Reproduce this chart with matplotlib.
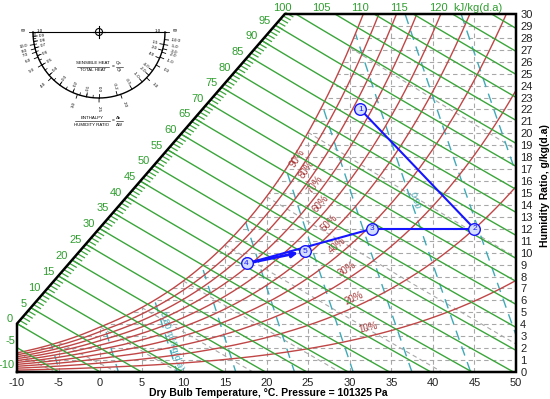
import numpy as np
import matplotlib
matplotlib.use('Agg')
import matplotlib.pyplot as plt
from matplotlib.patches import Polygon, Circle

plt.rcParams['font.family'] = ['Liberation Sans', 'DejaVu Sans']

P = 101325.0

# ---------------- data ----------------
temp_ticks = list(range(-10, 51, 5))
w_ticks = list(range(0, 31))
grid_temps = list(range(-5, 50, 5))
grid_ws = list(range(1, 30))
rh_levels = [0.1, 0.2, 0.3, 0.4, 0.5, 0.6, 0.7, 0.8, 0.9, 1.0]
rh_labels = ['10%', '20%', '30%', '40%', '50%', '60%', '70%', '80%', '90%', '']
rh_label_T = [32.4, 31.0, 30.2, 29.2, 28.2, 27.3, 26.6, 25.6, 24.6, 23.8]
enthalpy_levels = list(range(-5, 130, 5))
enthalpy_diag_labels = list(range(0, 100, 5))
enthalpy_left_labels = [-5, -10]
enthalpy_top_labels = ['100', '105', '110', '115', '120', 'kJ/kg(d.a)']
enthalpy_top_values = [100, 105, 110, 115, 120, 125]
volume_levels = [0.76, 0.78, 0.80, 0.82, 0.84, 0.86, 0.88, 0.90, 0.92, 0.94]
volume_label_values = [0.80, 0.90]
volume_label_texts = ['0.80 m³/kg(d.a)', '0.90']
volume_label_W = [2.6, 14.4]
wetbulb_levels = [-10, -5, 0, 5, 10, 15, 20, 25, 30]
state_names = ['1', '2', '3', '4', '5']
state_T = [31.3, 45.0, 32.7, 17.6, 24.6]
state_W = [22.0, 12.0, 12.0, 9.1, 10.1]
process_segments = [(0, 1), (1, 2), (2, 3)]
arrow_segment = (3, 4)
shr_labels = [0.9, 0.8, 0.7, 0.6, 0.5, 0.4, 0.3, 0.2, 0.1, 0.0, -0.2, -0.5, -1.0, -2.0, -4.0, 4.0, 2.0, 1.5]
dhdw_labels = [10.0, 8.0, 7.0, 6.0, 5.0, 4.0, 3.0, 2.5, 2.0, 1.0, 0.0, -1.0, -2.0, -3.0, -5.0, -10.0]

GREEN = '#3aa53a'
GREEN_T = '#2f9e2f'
RED = '#c04646'
RED_T = '#a83a3a'
TEAL = '#3eaab8'
GRAY = '#a8a8a8'
BLUE = '#1515ff'


# ---------------- psychrometrics ----------------
def pws(T):
    T = np.asarray(T, dtype=float)
    Tk = T + 273.15
    ice = np.exp(-5.6745359e3 / Tk + 6.3925247 - 9.677843e-3 * Tk + 6.2215701e-7 * Tk**2
                 + 2.0747825e-9 * Tk**3 - 9.484024e-13 * Tk**4 + 4.1635019 * np.log(Tk))
    wat = np.exp(-5.8002206e3 / Tk + 1.3914993 - 4.8640239e-2 * Tk + 4.1764768e-5 * Tk**2
                 - 1.4452093e-8 * Tk**3 + 6.5459673 * np.log(Tk))
    return np.where(T < 0, ice, wat)


def w_rh(T, rh):
    pw = rh * pws(T)
    return 621.945 * pw / (P - pw)


def w_h(T, h):
    return (h - 1.006 * T) / (2.501 + 0.00186 * T)


def w_v(T, v):
    return (v * P / (287.042 * (T + 273.15)) - 1.0) / 1.607858 * 1000.0


def w_wb(T, twb):
    ws = w_rh(twb, 1.0) / 1000.0
    if twb >= 0:
        w = ((2501 - 2.326 * twb) * ws - 1.006 * (T - twb)) / (2501 + 1.86 * T - 4.186 * twb)
    else:
        w = ((2830 - 0.24 * twb) * ws - 1.006 * (T - twb)) / (2830 + 1.86 * T - 2.1 * twb)
    return w * 1000.0


def bisect(f, a, b, n=60):
    fa = f(a)
    for _ in range(n):
        m = 0.5 * (a + b)
        fm = f(m)
        if (fm > 0) == (fa > 0):
            a, fa = m, fm
        else:
            b = m
    return 0.5 * (a + b)


# ---------------- figure ----------------
fig = plt.figure(figsize=(5.5, 3.99), dpi=100)
L, R_, B, T_ = 17, 516, 372, 14
ax = fig.add_axes([L / 550, (399 - B) / 399, (R_ - L) / 550, (B - T_) / 399])
ax.set_xlim(-10, 50)
ax.set_ylim(0, 30)
for sp in ax.spines.values():
    sp.set_visible(False)

sx = (R_ - L) / 60.0
sy = (B - T_) / 30.0

T_TOP = 22.2
W_H0 = w_h(-10.0, 0.0)
border = [(-10, 0), (50, 0), (50, 30), (T_TOP, 30), (-10, W_H0)]
border_patch = Polygon(border, closed=True, transform=ax.transData, fc='none', ec='none')
ax.add_patch(border_patch)

T_sat30 = bisect(lambda t: w_rh(t, 1.0) - 30.0, 20, 40)
ts = np.linspace(-10, T_sat30, 300)
sat_poly = list(zip(ts, w_rh(ts, 1.0))) + [(50, 30), (50, 0), (-10, 0)]
sat_patch = Polygon(sat_poly, closed=True, transform=ax.transData, fc='none', ec='none')
ax.add_patch(sat_patch)

TT = np.linspace(-10, 50, 600)

# grid
hl = ax.hlines(grid_ws, -10, 50, colors=GRAY, linestyles=(0, (4, 3)), lw=0.8, zorder=1)
hl.set_clip_path(sat_patch)
vl = ax.vlines(grid_temps, 0, 30, colors=GRAY, linestyles=(0, (4, 3)), lw=0.8, zorder=1)
vl.set_clip_path(sat_patch)

# wet bulb lines
for twb in wetbulb_levels:
    t = np.linspace(twb, 50, 200)
    ln, = ax.plot(t, w_wb(t, twb), color=GRAY, lw=0.8, ls=(0, (4, 3)), zorder=1)
    ln.set_clip_path(sat_patch)

# specific volume lines
for v in volume_levels:
    ln, = ax.plot(TT, w_v(TT, v), color=TEAL, lw=1.0, ls=(0, (7, 5)), zorder=2)
    ln.set_clip_path(sat_patch)


def disp_angle(x0, y0, x1, y1):
    p0 = ax.transData.transform((x0, y0))
    p1 = ax.transData.transform((x1, y1))
    return np.degrees(np.arctan2(p1[1] - p0[1], p1[0] - p0[0]))


for v, txt, wl in zip(volume_label_values, volume_label_texts, volume_label_W):
    tl = bisect(lambda t: w_v(t, v) - wl, -20, 60)
    ang = disp_angle(tl, wl, tl + 0.1, w_v(tl + 0.1, v))
    ang = ang + 180 if ang > 90 else ang
    ax.annotate(txt, (tl, wl), xytext=(3.0, 0), textcoords='offset points', rotation=ang,
                ha='center', va='center', color=TEAL, fontsize=6.5, rotation_mode='anchor',
                zorder=3)

# RH curves
for rh, lab, tl in zip(rh_levels, rh_labels, rh_label_T):
    ax.plot(TT, w_rh(TT, rh), color=RED, lw=1.0, zorder=3)
    if not lab:
        continue
    wl = float(w_rh(tl, rh))
    ang = disp_angle(tl, wl, tl + 0.1, float(w_rh(tl + 0.1, rh)))
    a = np.radians(ang)
    off = 6.0
    ax.annotate(lab, (tl, wl), xytext=(-off * np.sin(a), off * np.cos(a)), textcoords='offset points',
                rotation=ang, ha='center', va='center', color=RED_T, fontsize=7, zorder=4,
                rotation_mode='anchor')

# enthalpy lines
for h in enthalpy_levels:
    ln, = ax.plot(TT, w_h(TT, h), color=GREEN, lw=1.0, zorder=4)
    ln.set_clip_path(border_patch)


def diag_point(h):
    def f(s):
        t = -10 + s * (T_TOP + 10)
        w = W_H0 + s * (30 - W_H0)
        return 1.006 * t + w * (2.501 + 0.00186 * t) - h
    s = bisect(f, 0.0, 1.2)
    return -10 + s * (T_TOP + 10), W_H0 + s * (30 - W_H0)


# ticks on enthalpy scale
for h in range(0, 100):
    t0, w0 = diag_point(h)
    slope = -1.006 / (2.501 + 0.00186 * t0)
    dpx = np.hypot(sx, sy * slope)
    dt = 8.0 / dpx
    ax.plot([t0, t0 + dt], [w0, w0 + slope * dt], color=GREEN, lw=0.9, zorder=4, clip_on=False)

for h in enthalpy_diag_labels:
    t0, w0 = diag_point(h)
    ax.annotate(str(h), (t0, w0), xytext=(-3, 3), textcoords='offset points', ha='right',
                va='center', color=GREEN_T, fontsize=8, annotation_clip=False)
for h in enthalpy_left_labels:
    w0 = max(float(w_h(-10.0, h)), 0.0)
    ax.annotate(str(h), (-10, w0), xytext=(-1.5, 4.5), textcoords='offset points', ha='right',
                va='center', color=GREEN_T, fontsize=8, annotation_clip=False)
for lab, h in zip(enthalpy_top_labels, enthalpy_top_values):
    t0 = bisect(lambda t: w_h(t, h) - 30.0, -20, 80)
    ax.annotate(lab, (t0, 30), xytext=(-10, 1), textcoords='offset points', ha='center',
                va='bottom', color=GREEN_T, fontsize=8, annotation_clip=False)

# border
bx = [p[0] for p in border] + [border[0][0]]
by = [p[1] for p in border] + [border[0][1]]
ax.plot(bx, by, color='black', lw=1.8, clip_on=False, zorder=6, solid_joinstyle='miter')

# process
for i, j in process_segments:
    ax.plot([state_T[i], state_T[j]], [state_W[i], state_W[j]], color=BLUE, lw=1.5, zorder=7)
i, j = arrow_segment
ax.annotate('', xy=(state_T[j], state_W[j]), xytext=(state_T[i], state_W[i]),
            arrowprops=dict(arrowstyle='-|>', color=BLUE, lw=2.0, mutation_scale=9,
                            shrinkA=0, shrinkB=5), zorder=7)
ax.scatter(state_T, state_W, s=70, facecolor='#d4defe', edgecolor=BLUE, linewidths=1.0, zorder=8)
for n, t, w in zip(state_names, state_T, state_W):
    ax.text(t, w, n, color=BLUE, fontsize=6, ha='center', va='center', zorder=9)

# axes ticks / labels
ax.set_xticks(temp_ticks)
ax.set_xticklabels([str(t) for t in temp_ticks])
ax.tick_params(axis='x', length=0, pad=4, labelsize=8, labelcolor='#222222')
ax.yaxis.tick_right()
ax.set_yticks(w_ticks)
ax.set_yticklabels([str(w) for w in w_ticks])
ax.tick_params(axis='y', length=0, pad=3, labelsize=8, labelcolor='#222222')
ax.yaxis.set_label_position('right')
ax.set_ylabel('Humidity Ratio, g/kg(d.a)', fontsize=7.5, fontweight='bold', rotation=90)
ax.yaxis.set_label_coords(1.048, 0.52)
ax.set_xlabel('Dry Bulb Temperature, °C. Pressure = 101325 Pa', fontsize=7.5, fontweight='bold')
ax.xaxis.set_label_coords(0.503, -0.045)

# ---------------- protractor ----------------
pax = fig.add_axes([0, 0, 1, 1], zorder=5)
pax.set_xlim(0, 550)
pax.set_ylim(399, 0)
pax.axis('off')
cx, cy, R = 99.0, 32.0, 66.0
ph = np.linspace(0, np.pi, 200)
pax.plot(cx + R * np.cos(ph), cy + R * np.sin(ph), color='black', lw=1.0)
pax.plot([cx - R - 1, cx + R + 1], [cy, cy], color='black', lw=0.8)
pax.add_patch(Circle((cx, cy), 3.5, fill=False, ec='black', lw=0.8))
pax.plot([cx - 6, cx + 6], [cy, cy], color='black', lw=0.8)
pax.plot([cx, cx], [cy - 6, cy + 6], color='black', lw=0.8)
k = (2.501 / 1.006) * (sx / sy)
c2 = 1.006 * (sy / sx)


def rot_for(phi):
    d = np.degrees(phi)
    return 180 - d if d > 90 else -d


def shr_phi(s):
    if s == 0:
        return np.pi / 2
    tn = (1 - 1 / s) / k
    a = np.arctan(tn)
    return a + np.pi if a < 0 else a


for s in np.arange(0.05, 1.0, 0.05):
    p = shr_phi(s)
    pax.plot([cx + (R - 2.5) * np.cos(p), cx + R * np.cos(p)],
             [cy + (R - 2.5) * np.sin(p), cy + R * np.sin(p)], color='black', lw=0.5)
for s in shr_labels:
    p = shr_phi(s)
    pax.plot([cx + (R - 4) * np.cos(p), cx + R * np.cos(p)],
             [cy + (R - 4) * np.sin(p), cy + R * np.sin(p)], color='black', lw=0.6)
    rr = R - 9
    pax.text(cx + rr * np.cos(p), cy + rr * np.sin(p), f'{s:.1f}', fontsize=3.2,
             rotation=rot_for(p), ha='center', va='center', rotation_mode='anchor')
for r in dhdw_labels:
    p = np.arctan2(c2, 2.501 - r)
    pax.plot([cx + R * np.cos(p), cx + (R + 4) * np.cos(p)],
             [cy + R * np.sin(p), cy + (R + 4) * np.sin(p)], color='black', lw=0.6)
    rr = R + 11
    pax.text(cx + rr * np.cos(p), cy + rr * np.sin(p), f'{r:.1f}', fontsize=3.2,
             rotation=rot_for(p), ha='center', va='center', rotation_mode='anchor')
for side in (-1, 1):
    pax.text(cx + side * (R - 7), cy - 1, '1.0', fontsize=3.2, ha='center', va='center')
    pax.text(cx + side * (R + 10), cy - 1, '∞', fontsize=4, ha='center', va='center')
    pax.plot([cx + side * R, cx + side * (R + 4)], [cy, cy], color='black', lw=0.6)

pax.text(93, 63, 'SENSIBLE HEAT', fontsize=3.2, ha='center', va='center')
pax.plot([77, 109], [66.5, 66.5], color='black', lw=0.4)
pax.text(93, 70, 'TOTAL HEAT', fontsize=3.2, ha='center', va='center')
pax.text(113, 66.5, '=', fontsize=3.5, ha='center', va='center')
pax.text(119, 63, 'Qs', fontsize=3.2, ha='center', va='center')
pax.plot([116, 123], [66.5, 66.5], color='black', lw=0.4)
pax.text(119, 70, 'Qt', fontsize=3.2, ha='center', va='center')

pax.text(92, 118, 'ENTHALPY', fontsize=3.2, ha='center', va='center')
pax.plot([75, 110], [121, 121], color='black', lw=0.4)
pax.text(92, 124.5, 'HUMIDITY RATIO', fontsize=3.2, ha='center', va='center')
pax.text(113, 121, '=', fontsize=3.5, ha='center', va='center')
pax.text(119, 118, 'Δh', fontsize=3.2, ha='center', va='center')
pax.plot([116, 123], [121, 121], color='black', lw=0.4)
pax.text(119, 124.5, 'ΔW', fontsize=3.2, ha='center', va='center')

fig.savefig('out.png', dpi=100)
